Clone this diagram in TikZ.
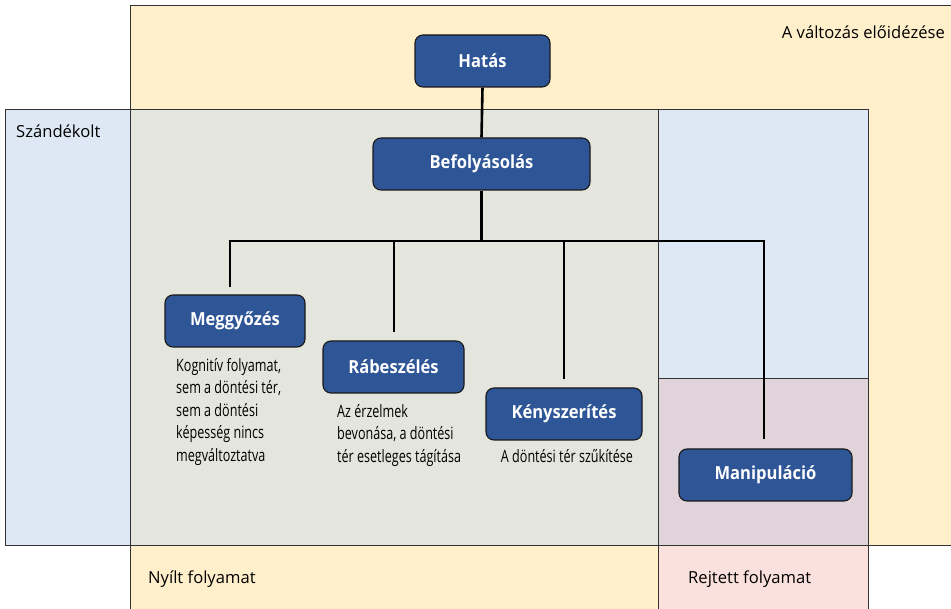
\documentclass[tikz,border=0pt]{standalone}
\usepackage{fontspec}
\setmainfont{Open Sans}
\newfontfamily\condfont[FakeStretch=0.74]{Open Sans}
\newfontfamily\boldcond[FakeStretch=0.92]{Open Sans}
\definecolor{cyellow}{HTML}{FFF0CB}
\definecolor{cblue}{HTML}{DDE8F4}
\definecolor{cgrey}{HTML}{E4E6DD}
\definecolor{cmauve}{HTML}{E0D3D9}
\definecolor{cpink}{HTML}{FAE1DD}
\definecolor{cnode}{HTML}{2E5596}
\definecolor{cframe}{HTML}{333333}
\tikzset{
  boxnode/.style={rounded corners=8pt, fill=cnode, draw=black!90, line width=1.1pt,
    text=white, font=\boldcond\fontsize{18}{21}\selectfont\bfseries, inner sep=0pt, minimum height=52pt},
  desc/.style={font=\condfont\fontsize{17}{22.5}\selectfont, align=left, inner sep=0pt, anchor=north west},
  area/.style={font=\fontsize{16.6}{19}\selectfont, inner sep=0pt},
  frame/.style={draw=cframe, line width=0.9pt},
  conn/.style={line width=2.6pt, black}
}
\begin{document}
\begin{tikzpicture}[x=1pt,y=-1pt]
\useasboundingbox (0,0) rectangle (951,609);
% fills
\fill[cyellow] (130,5) rectangle (951,545);
\fill[cyellow] (130,545) rectangle (658,609);
\fill[cpink] (658,545) rectangle (868,609);
\fill[cblue] (5,109) rectangle (130,545);
\fill[cgrey] (130,109) rectangle (658,545);
\fill[cblue] (658,109) rectangle (868,378);
\fill[cmauve] (658,378) rectangle (868,545);
% frame lines
\draw[frame] (951,5) -- (130,5) -- (130,609);
\draw[frame] (5,109) -- (868,109);
\draw[frame] (5,109) -- (5,545);
\draw[frame] (5,545) -- (951,545);
\draw[frame] (658,109) -- (658,609);
\draw[frame] (868,109) -- (868,609);
\draw[frame] (658,378) -- (868,378);
% area labels
\node[area, anchor=base west] (lszand) at (16,138) {Szándékolt};
\node[area, anchor=base east] (lvalt) at (945,39) {A változás előidézése};
\node[area, anchor=base west] (lnyilt) at (148,583) {Nyílt folyamat};
\node[area, anchor=base west] (lrejt) at (688,583) {Rejtett folyamat};
% nodes
\node[boxnode, minimum width=135pt] (hatas) at (482.5,61) {Hatás};
\node[boxnode, minimum width=217pt] (bef) at (481.5,164) {Befolyásolás};
\node[boxnode, minimum width=140pt] (meg) at (235,321) {Meggyőzés};
\node[boxnode, minimum width=141pt] (rab) at (393.5,367) {Rábeszélés};
\node[boxnode, minimum width=156pt] (keny) at (564,414) {Kényszerítés};
\node[boxnode, minimum width=173pt] (man) at (765.5,475) {Manipuláció};
% descriptions
\node[desc] (dmeg) at (176,358) {Kognitív folyamat,\\sem a döntési tér,\\sem a döntési\\képesség nincs\\megváltoztatva};
\node[desc] (drab) at (337,404) {Az érzelmek\\bevonása, a döntési\\tér esetleges tágítása};
\node[desc, anchor=north] (dkeny) at (567,449) {A döntési tér szűkítése};
% connectors
\coordinate (d1) at (230,241);
\coordinate (d2) at (394,241);
\coordinate (d3) at (564,241);
\coordinate (d4) at (764,241);
\draw[conn] (hatas.south) -- (bef.north);
\draw[conn] (bef.south) -- (bef.south |- d1);
\draw[conn] ([xshift=-1.3pt]d1) -- ([xshift=1.3pt]d4);
\draw[conn, shorten >=7pt] (d1) -- (d1 |- meg.north);
\draw[conn, shorten >=8pt] (d2) -- (d2 |- rab.north);
\draw[conn, shorten >=8pt] (d3) -- (d3 |- keny.north);
\draw[conn, shorten >=9pt] (d4) -- (d4 |- man.north);
\end{tikzpicture}
\end{document}
